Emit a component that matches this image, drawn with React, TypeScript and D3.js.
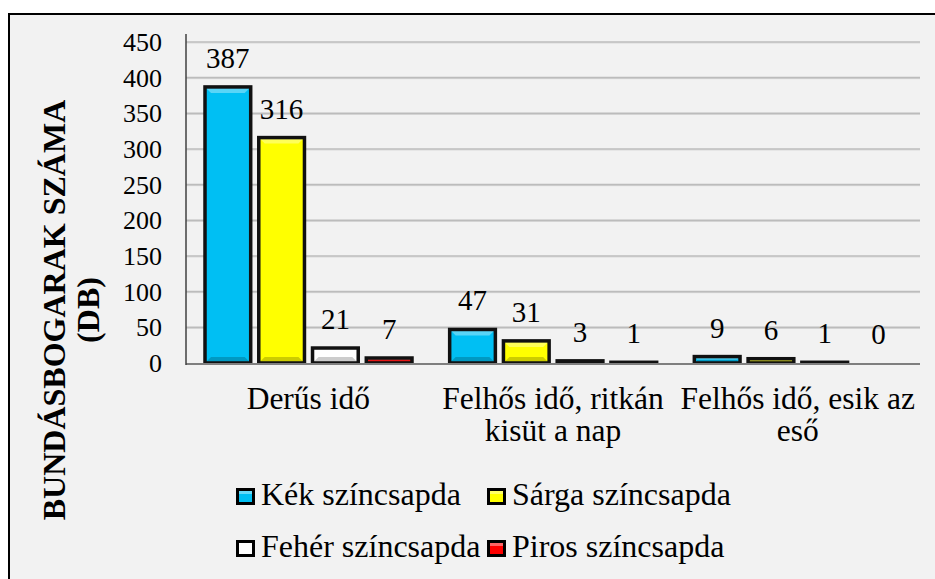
import React from "react";
import * as d3 from "d3";

const categories = ["Derűs idő", "Felhős idő, ritkán kisüt a nap", "Felhős idő, esik az eső"];
const categoryLines = [["Derűs idő"], ["Felhős idő, ritkán", "kisüt a nap"], ["Felhős idő, esik az", "eső"]];
const series = ["Kék színcsapda", "Sárga színcsapda", "Fehér színcsapda", "Piros színcsapda"];
const seriesColors = ["#00bff3", "#ffff00", "#ffffff", "#ff0000"];
const kek = [387, 47, 9];
const sarga = [316, 31, 6];
const feher = [21, 3, 1];
const piros = [7, 1, 0];
const values = [kek, sarga, feher, piros];
const yTicks = [0, 50, 100, 150, 200, 250, 300, 350, 400, 450];

const FAM = '"Liberation Serif", "Times New Roman", Tinos, serif';
const TS = { fontFamily: FAM };

export default function App() {
  const W = 935, H = 579;
  const left = 186, right = 920, top = 42, bottom = 363;
  const x0 = d3.scaleBand<string>().domain(categories).range([left, right]);
  const x1 = d3.scaleBand<string>().domain(series).range([19, 226]).paddingInner(0.15);
  const y = d3.scaleLinear().domain([0, 450]).range([bottom, top]);
  const bw = x1.bandwidth();

  const lighten = (c: string, k: number) => d3.interpolateRgb(c, "#ffffff")(k);
  const darken = (c: string, k: number) => d3.interpolateRgb(c, "#000000")(k);

  return (
    <svg width={W} height={H} style={{ position: "absolute", left: 0, top: 0, fontFamily: FAM }}>
      <rect x={0} y={0} width={W} height={H} fill="#ffffff" />
      <rect x={9} y={14} width={W + 20} height={H + 20} fill="#f2f2f2" stroke="#000" strokeWidth={2} />
      {yTicks.filter(t => t > 0).map(t => (
        <g key={t}>
          <line x1={left} x2={right} y1={y(t) + 1} y2={y(t) + 1} stroke="#d9d9d9" strokeWidth={1} />
          <line x1={left} x2={right} y1={y(t)} y2={y(t)} stroke="#bcbcbc" strokeWidth={1.6} />
        </g>
      ))}
      {yTicks.map(t => (
        <text key={t} x={162} y={y(t)} dy="0.35em" textAnchor="end" fontSize={26} style={TS} fill="#000">{t}</text>
      ))}
      {categories.map((c, ci) => (
        <g key={c} transform={`translate(${x0(c)},0)`}>
          {series.map((s, si) => {
            const v = values[si][ci];
            const bx = x1(s)!;
            const by = y(v);
            const h = bottom - by;
            const col = seriesColors[si];
            const bev = Math.min(6, h / 2);
            return (
              <g key={s}>
                {v > 0 && (
                  <g>
                    <rect x={bx} y={by} width={bw} height={h} fill={col} />
                    <polygon
                      points={`${bx},${by} ${bx + bw},${by} ${bx + bw - bev},${by + bev} ${bx + bev},${by + bev}`}
                      fill={lighten(col, 0.35)}
                    />
                    <polygon
                      points={`${bx},${by + h} ${bx + bw},${by + h} ${bx + bw - bev},${by + h - bev} ${bx + bev},${by + h - bev}`}
                      fill={darken(col, 0.2)}
                    />
                    <rect x={bx} y={by} width={bw} height={h} fill="none" stroke="#111" strokeWidth={3.5} />
                  </g>
                )}
                <text x={bx + bw / 2} y={by - 19} textAnchor="middle" fontSize={29} style={TS} fill="#000">{v}</text>
              </g>
            );
          })}
        </g>
      ))}
      <line x1={left} x2={right} y1={bottom + 1} y2={bottom + 1} stroke="#7f7f7f" strokeWidth={2} />
      <line x1={left} x2={left} y1={top - 8} y2={bottom + 2} stroke="#404040" strokeWidth={1.5} />
      {categories.map((c, ci) => (
        <text key={c} x={x0(c)! + x0.bandwidth() / 2} y={409} textAnchor="middle" fontSize={31.5} style={TS} fill="#000">
          {categoryLines[ci].map((ln, li) => (
            <tspan key={li} x={x0(c)! + x0.bandwidth() / 2} dy={li === 0 ? 0 : 32}>{ln}</tspan>
          ))}
        </text>
      ))}
      <text transform={`translate(65,310) rotate(-90)`} textAnchor="middle" fontSize={32} fontWeight="bold" style={TS} fill="#000">
        <tspan x={0} dy={0}>BUNDÁSBOGARAK SZÁMA</tspan>
        <tspan x={0} dy={34}>(DB)</tspan>
      </text>
      {series.map((s, si) => {
        const colX = si % 2 === 0 ? 236 : 487;
        const rowY = si < 2 ? 505 : 557;
        return (
          <g key={s}>
            <rect x={colX} y={rowY - 17} width={19} height={17} fill="#000" />
            <rect x={colX + 3} y={rowY - 14} width={13} height={11} fill={seriesColors[si]} />
            <rect x={colX + 3} y={rowY - 14} width={13} height={3} fill={lighten(seriesColors[si], 0.4)} />
            <text x={colX + 25} y={rowY} fontSize={32} style={TS} fill="#000">{s}</text>
          </g>
        );
      })}
    </svg>
  );
}
